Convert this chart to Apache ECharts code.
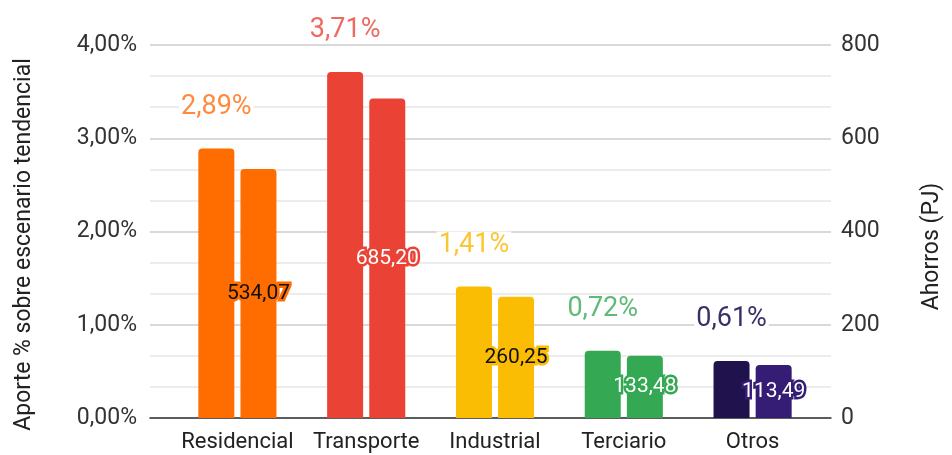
<!DOCTYPE html>
<html>
<head>
<meta charset="utf-8">
<script src="https://cdn.jsdelivr.net/npm/echarts@6/dist/echarts.min.js"></script>
<style>
html,body{margin:0;padding:0;background:#fff;}
#chart{width:952px;height:455px;}
</style>
</head>
<body>
<div id="chart"></div>
<script>
// Data
var categories = ['Residencial', 'Transporte', 'Industrial', 'Terciario', 'Otros'];
var aportePct = [2.89, 3.71, 1.41, 0.72, 0.61];
var ahorrosPJ = [534.07, 685.20, 260.25, 133.48, 113.49];
var leftTicks = [0, 1, 2, 3, 4];
var rightTicks = [0, 200, 400, 600, 800];

// Styles
var barColorsA = ['#FF6D01', '#EA4335', '#FBBC04', '#34A853', '#20124D'];
var barColorsB = ['#FF6D01', '#EA4335', '#FBBC04', '#34A853', '#351C75'];
var pctLabelColors = ['#FF8A3D', '#EE6A60', '#FBC534', '#5DBB75', '#3B2F6B'];
var pjTextColors = ['#111111', '#ffffff', '#111111', '#ffffff', '#ffffff'];

function comma(v, d) { return v.toFixed(d).replace('.', ','); }

var FONT = 'Roboto';
var chart = echarts.init(document.getElementById('chart'));

var seriesAData = aportePct.map(function (v, i) {
  return {
    value: v,
    itemStyle: { color: barColorsA[i] },
    label: { color: pctLabelColors[i] }
  };
});
var seriesBData = ahorrosPJ.map(function (v, i) {
  return {
    value: v,
    itemStyle: { color: barColorsB[i] },
    label: { color: pjTextColors[i], textBorderColor: barColorsB[i] }
  };
});

chart.setOption({
  animation: false,
  backgroundColor: '#ffffff',
  grid: [
    { left: 150, right: 112, top: 45, bottom: 37 },
    { left: 173, right: 135, top: 45, bottom: 37 }
  ],
  xAxis: [
    {
      type: 'value', gridIndex: 0, min: 0, max: 1,
      axisLine: { show: true, onZero: false, lineStyle: { color: '#333', width: 1.5 } },
      axisTick: { show: false }, axisLabel: { show: false }, splitLine: { show: false }
    },
    {
      type: 'category', gridIndex: 1, data: categories,
      axisLine: { show: false }, axisTick: { show: false },
      axisLabel: { color: '#222', fontSize: 22, fontFamily: FONT, margin: 13, interval: 0, hideOverlap: false }
    }
  ],
  yAxis: [
    {
      type: 'value', gridIndex: 0, position: 'left', min: 0, max: 4, interval: 1,
      axisLine: { show: false }, axisTick: { show: false },
      axisLabel: {
        color: '#333', fontSize: 23, fontFamily: FONT, margin: 13,
        formatter: function (v) { return comma(v, 2) + '%'; }
      },
      splitLine: { show: true, lineStyle: { color: '#cccccc', width: 1.5 } },
      minorTick: { show: false, splitNumber: 3 },
      minorSplitLine: { show: true, lineStyle: { color: '#e6e6e6', width: 1.5 } },
      name: 'Aporte % sobre escenario tendencial', nameLocation: 'middle',
      nameRotate: 90, nameGap: 114,
      nameTextStyle: { color: '#222', fontSize: 23, fontFamily: FONT, padding: [0, 26, 0, 0] }
    },
    {
      type: 'value', gridIndex: 0, position: 'right', min: 0, max: 800, interval: 200,
      axisLine: { show: false }, axisTick: { show: false },
      axisLabel: { color: '#333', fontSize: 23, fontFamily: FONT, margin: 10 },
      splitLine: { show: false },
      name: 'Ahorros (PJ)', nameLocation: 'middle', nameRotate: 90, nameGap: 90,
      nameTextStyle: { color: '#222', fontSize: 23, fontFamily: FONT, padding: [0, 30, 0, 0] }
    },
    { type: 'value', gridIndex: 1, min: 0, max: 4, interval: 1, show: false },
    { type: 'value', gridIndex: 1, min: 0, max: 800, interval: 200, show: false }
  ],
  series: [
    {
      type: 'bar', xAxisIndex: 1, yAxisIndex: 2, barWidth: 36, barGap: '17%',
      data: seriesAData,
      itemStyle: { borderRadius: [4, 4, 0, 0] },
      label: {
        show: true, position: 'top', distance: 28, fontSize: 27, fontFamily: FONT,
        formatter: function (p) { return comma(p.value, 2) + '%'; },
        backgroundColor: '#ffffff', padding: [0, 2]
      }
    },
    {
      type: 'bar', xAxisIndex: 1, yAxisIndex: 3, barWidth: 36, barGap: '17%',
      data: seriesBData,
      itemStyle: { borderRadius: [4, 4, 0, 0] },
      label: {
        show: true, position: 'inside', fontSize: 21, fontFamily: FONT,
        textBorderWidth: 5,
        formatter: function (p) { return comma(p.value, 2); }
      }
    }
  ]
});
</script>
</body>
</html>
